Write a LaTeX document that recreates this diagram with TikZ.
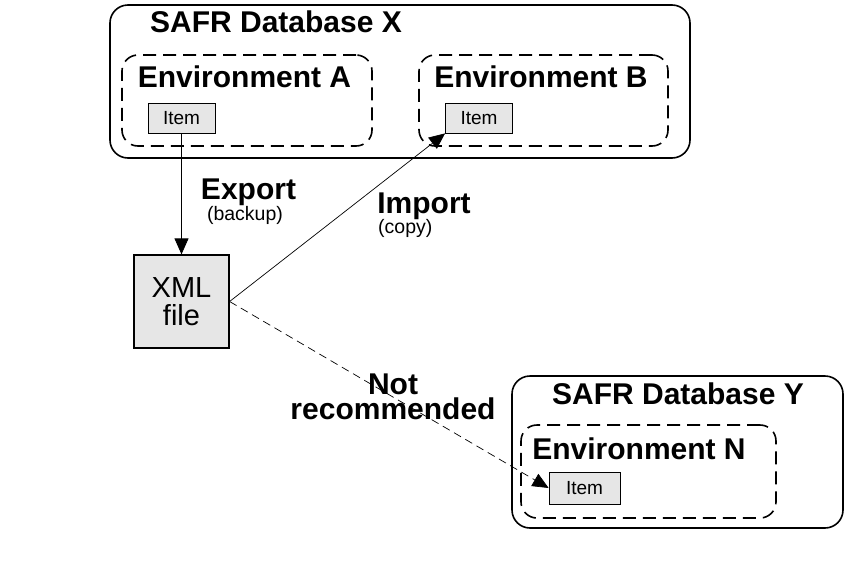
\documentclass[tikz,border=0pt]{standalone}
\usepackage{fontspec}
\setmainfont{Liberation Sans}
\usetikzlibrary{positioning}
\usetikzlibrary{arrows.meta}
\definecolor{itemgray}{RGB}{230,230,230}

\begin{document}
\begin{tikzpicture}[x = 1pt, y = -1pt,
		dbbox/.style = {draw, black, line width = 1.6pt, rounded corners = 18pt, inner sep = 0pt},
		envbox/.style = {draw, black, line width = 1.6pt, dash pattern = on 13pt off 7pt, rounded corners = 16pt, inner sep = 0pt},
		itembox/.style = {draw, black, line width = 0.8pt, fill = itemgray, inner sep = 0pt, minimum width = 67pt, minimum height = 30pt, font = \fontsize{19}{20}\selectfont},
		bigtext/.style = {inner sep = 0pt, font = \bfseries\fontsize{30}{30}\selectfont},
		smalltext/.style = {inner sep = 0pt, font = \fontsize{19.5}{20}\selectfont},
		tip/.style = {-{Triangle[length = 16pt, width = 14pt]}}]
	\useasboundingbox (0, 0) rectangle (846, 584);
	\node (dbX) at (400, 81.5) [dbbox, minimum width = 580pt, minimum height = 153pt] {};
	\node (envA) at (247, 100.5) [envbox, minimum width = 250pt, minimum height = 91pt] {};
	\node (envB) at (543.5, 100.5) [envbox, minimum width = 249pt, minimum height = 91pt] {};
	\node (dbY) at (677.5, 452) [dbbox, minimum width = 331pt, minimum height = 152pt] {};
	\node (envN) at (648.5, 471.5) [envbox, minimum width = 255pt, minimum height = 93pt] {};
	\node (dbXlabel) at (276, 22) [bigtext] {SAFR Database X};
	\node (envAlabel) at (244.5, 77) [bigtext] {Environment A};
	\node (envBlabel) at (541, 77) [bigtext] {Environment B};
	\node (dbYlabel) at (678, 394) [bigtext] {SAFR Database Y};
	\node (envNlabel) at (639, 449) [bigtext] {Environment N};
	\node (itemA) at (181.5, 118) [itembox] {Item};
	\node (itemB) at (479, 118) [itembox] {Item};
	\node (itemN) at (584.5, 488) [itembox, minimum width = 71pt, minimum height = 32pt] {Item};
	\node (xml) at (181.5, 301.5) [draw, black, line width = 1.2pt, fill = itemgray, minimum width = 95pt, minimum height = 93pt, align = center, font = \fontsize{29}{28}\selectfont] {XML\\file};
	\node (export) at (248.5, 192) [bigtext] {Export};
	\node (backup) at (245, 215) [smalltext] {(backup)};
	\node (import) at (424, 206) [bigtext] {Import};
	\node (copy) at (378, 228) [smalltext, anchor = west] {(copy)};
	\node (notrec) at (393, 384) [bigtext] {Not};
	\node (recommended) [bigtext, below = 3pt of notrec] {recommended};
	\draw [black, line width = 0.9pt, tip] (itemA.south) -- (xml.north);
	\draw [black, line width = 0.7pt, tip] (xml.east) -- (itemB.south west);
	\draw [black, line width = 0.7pt, dash pattern = on 8pt off 5pt, tip] (xml.east) -- (itemN.west);
\end{tikzpicture}
\end{document}
